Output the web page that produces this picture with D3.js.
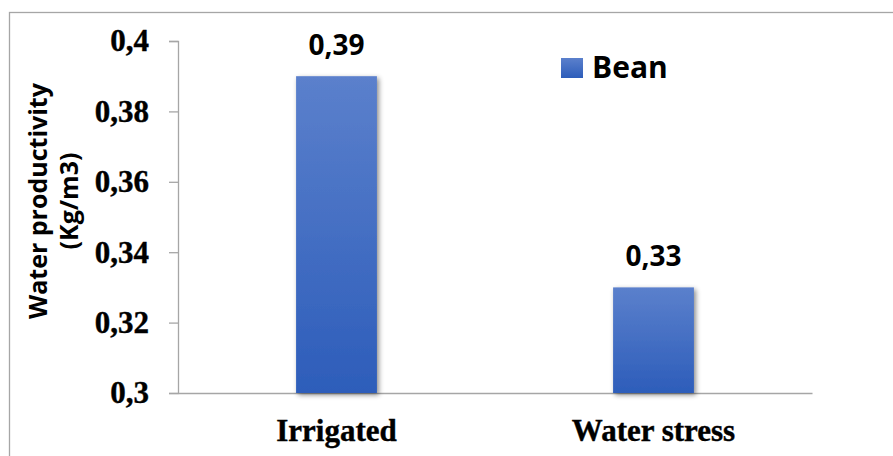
<!DOCTYPE html>
<html><head><meta charset="utf-8">
<script src="https://cdn.jsdelivr.net/npm/d3@7"></script>
<style>body{margin:0;background:#fff}svg{display:block}</style>
</head><body>
<svg id="chart" width="893" height="456"></svg>
<script>
const categories = ["Irrigated", "Water stress"];
const beanValues = [0.39, 0.33];
const seriesName = "Bean";
const yTicks = [0.3, 0.32, 0.34, 0.36, 0.38, 0.4];
const yTitle = ["Water productivity", "(Kg/m3)"];

const SANS = "'Open Sans', sans-serif";
const SERIF = "'Liberation Serif', serif";
const fmt = v => d3.format(".2~f")(v).replace(".", ",");
const svg = d3.select("#chart");
const defs = svg.append("defs");
const grad = defs.append("linearGradient").attr("id","barGrad").attr("x1",0).attr("y1",0).attr("x2",0).attr("y2",1);
grad.append("stop").attr("offset","0%").attr("stop-color","#5b80cc");
grad.append("stop").attr("offset","100%").attr("stop-color","#2d5dba");
const f = defs.append("filter").attr("id","shadow").attr("x","-20%").attr("y","-10%").attr("width","150%").attr("height","130%");
f.append("feDropShadow").attr("dx",2).attr("dy",2).attr("stdDeviation",2.5).attr("flood-color","#000").attr("flood-opacity",0.45);

// outer border
svg.append("rect").attr("x",9.5).attr("y",12.5).attr("width",900).attr("height",460)
  .attr("fill","none").attr("stroke","#a6a6a6").attr("stroke-width",1.3);

const x0 = 178, x1 = 812, yTop = 41, yBot = 393;
const x = d3.scaleBand().domain(categories).range([x0, x1]).paddingInner(0.745).paddingOuter(0.3725);
const y = d3.scaleLinear().domain([0.3, 0.4]).range([yBot, yTop]);

// y axis
const yAxis = svg.append("g").attr("transform",`translate(${x0},0)`)
  .call(d3.axisLeft(y).tickValues(yTicks).tickSize(9).tickPadding(20).tickFormat(fmt));
yAxis.select(".domain").attr("stroke","#a6a6a6").attr("stroke-width",1.3);
yAxis.selectAll(".tick line").attr("stroke","#a6a6a6").attr("stroke-width",1.3);
yAxis.selectAll(".tick text").attr("font-family",SERIF).attr("font-weight","bold")
  .attr("font-size",31).attr("fill","#000").attr("stroke","#000").attr("stroke-width",0.4);

// x axis
const xAxis = svg.append("g").attr("transform",`translate(0,${yBot})`)
  .call(d3.axisBottom(x).tickSize(0).tickPadding(0));
xAxis.select(".domain").attr("stroke","#a6a6a6").attr("stroke-width",1.3);
xAxis.selectAll(".tick text").attr("font-family",SERIF).attr("font-weight","bold")
  .attr("font-size",31).attr("fill","#000").attr("stroke","#000").attr("stroke-width",0.4)
  .attr("dy",null).attr("y",48);

// bars
svg.append("g").selectAll("rect").data(categories).join("rect")
  .attr("x", d => x(d)).attr("width", x.bandwidth())
  .attr("y", (d,i) => y(beanValues[i])).attr("height", (d,i) => yBot - y(beanValues[i]))
  .attr("fill","url(#barGrad)").attr("filter","url(#shadow)");

// value labels
svg.append("g").selectAll("text").data(categories).join("text")
  .attr("x", d => x(d) + x.bandwidth()/2).attr("y", (d,i) => y(beanValues[i]) - 21)
  .attr("text-anchor","middle").attr("font-family",SANS).attr("font-weight",700)
  .attr("font-size",28).attr("fill","#000").text((d,i) => fmt(beanValues[i]));

// y title
const tg = svg.append("g").attr("transform","translate(0,201) rotate(-90)");
tg.selectAll("text").data(yTitle).join("text")
  .attr("x",0).attr("y",(d,i) => 47 + i*31).attr("text-anchor","middle")
  .attr("font-family",SANS).attr("font-weight",700).attr("font-size",25).attr("fill","#000")
  .text(d => d);

// legend
const lg = svg.append("g").attr("transform","translate(561,58)");
lg.append("rect").attr("width",22).attr("height",20).attr("fill","url(#barGrad)");
lg.append("text").attr("x",31).attr("y",20).attr("font-family",SANS).attr("font-weight",700)
  .attr("font-size",30).attr("fill","#000").text(seriesName);
</script>
</body></html>
